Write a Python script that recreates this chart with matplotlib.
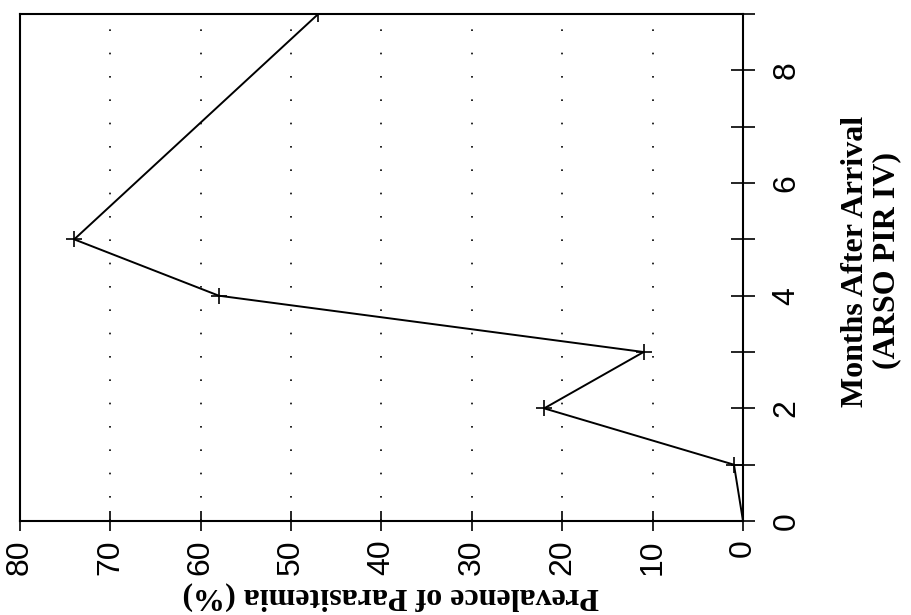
import matplotlib.pyplot as plt

# months after arrival and prevalence (%)
months = [0, 1, 2, 3, 4, 5, 9]
prevalence = [0, 1, 22, 11, 58, 74, 47]

prev_ticks = [80, 70, 60, 50, 40, 30, 20, 10, 0]
month_ticks = list(range(10))
month_labels = [str(m) if m % 2 == 0 else "" for m in month_ticks]

fig = plt.figure(figsize=(9.12, 6.15), dpi=100)
ax = fig.add_axes([0.0219, 0.1528, 0.7928, 0.8244])

ax.plot(prevalence, months, color="black", lw=1.4, marker="+", ms=12, mew=1.2)

ax.set_xlim(80, 0)
ax.set_ylim(0, 9)
ax.set_xticks(prev_ticks)
ax.set_xticklabels([str(p) for p in prev_ticks], rotation=90, va="top", ha="center",
                   fontfamily="Liberation Sans", fontsize=23)
ax.set_yticks(month_ticks)
ax.set_yticklabels(month_labels, rotation=90, va="center", ha="left",
                   fontfamily="Liberation Sans", fontsize=23)
ax.yaxis.tick_right()
ax.tick_params(axis="x", direction="inout", length=14, width=1.2, pad=6)
ax.tick_params(axis="y", direction="inout", length=17, width=1.2, pad=12)

# dotted vertical guides
for p in prev_ticks[1:-1]:
    ax.axvline(p, color="black", lw=1.2, linestyle=(0, (1, 13)), zorder=0)

for s in ax.spines.values():
    s.set_linewidth(1.5)

fig.text(0.429, 0.03, "Prevalence of Parasitemia (%)", rotation=180,
         ha="center", va="center", fontfamily="Liberation Serif",
         fontweight="bold", fontsize=23)
fig.text(0.955, 1 - 261 / 615, "Months After Arrival\n(ARSO PIR IV)", rotation=90,
         ha="center", va="center", fontfamily="Liberation Serif",
         fontweight="bold", fontsize=23, multialignment="center", linespacing=1.1)

fig.savefig("out.png", dpi=100)
